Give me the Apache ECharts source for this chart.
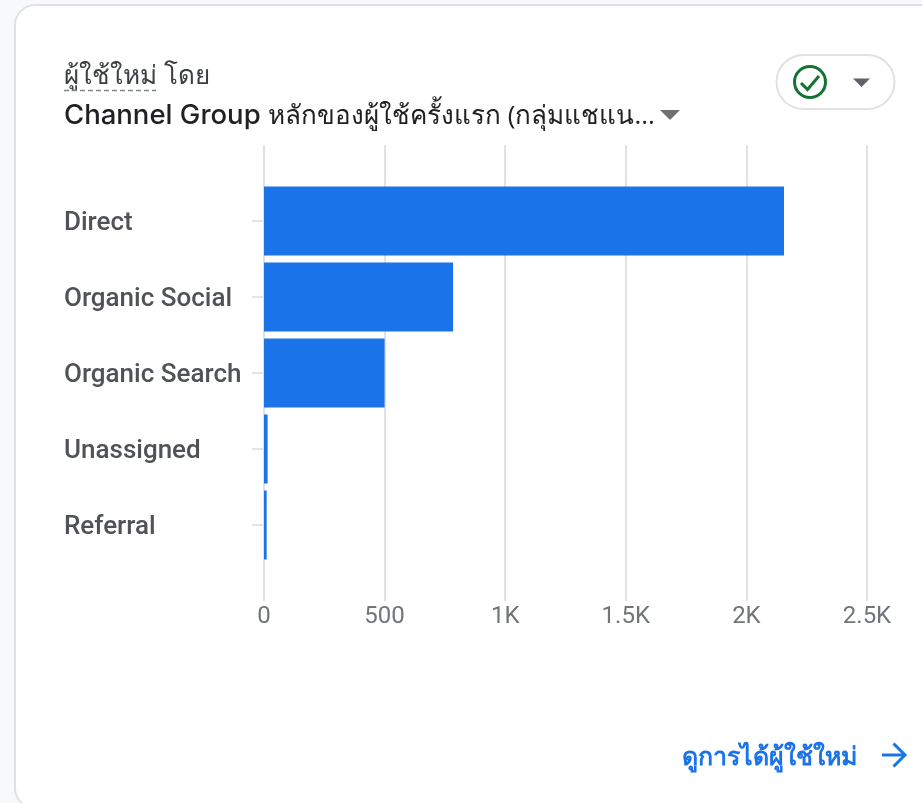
<!DOCTYPE html>
<html><head><meta charset="utf-8">
<style>html,body{margin:0;padding:0;background:#f8f9fa}#c{width:922px;height:803px}</style>
<script src="https://cdn.jsdelivr.net/npm/echarts@6/dist/echarts.min.js"></script>
</head><body><div id="c"></div>
<script>
const categories = ['', 'Direct', 'Organic Social', 'Organic Search', 'Unassigned', 'Referral', ''];
const newUsers = [null, 2156, 784, 500, 15, 11, null];
const tickLabels = ['0', '500', '1K', '1.5K', '2K', '2.5K'];
const titleLine1 = 'ผู้ใช้ใหม่ โดย';
const titleLine2a = 'Channel Group';
const titleLine2b = 'หลักของผู้ใช้ครั้งแรก (กลุ่มแชแน...';
const linkText = 'ดูการได้ผู้ใช้ใหม่';
const FONT = '"Open Sans","Noto Sans",sans-serif';
const chart = echarts.init(document.getElementById('c'), null, {renderer:'canvas'});
chart.setOption({
  animation:false,
  backgroundColor:'#f8f9fa',
  grid:{left:264,top:145,width:603,height:456,containLabel:false},
  xAxis:{type:'value',min:0,max:2500,interval:500,
    axisLine:{show:false},axisTick:{show:false},
    axisLabel:{margin:4,color:'#70757a',fontFamily:'Roboto',fontSize:24,
      formatter:(v)=>tickLabels[v/500]},
    splitLine:{show:true,lineStyle:{color:'#e0e2e6',width:2}}},
  yAxis:{type:'category',inverse:true,boundaryGap:false,data:categories,
    axisLine:{show:false},
    axisTick:{show:true,length:12,interval:(i,v)=>v!=='',lineStyle:{color:'#dadce0',width:1.5}},
    axisLabel:{align:'left',margin:200,color:'#4f5256',fontFamily:'Roboto',fontWeight:500,fontSize:26,interval:0,verticalAlign:'top',lineHeight:4},
    splitLine:{show:false}},
  series:[{type:'bar',data:newUsers,barWidth:69,itemStyle:{color:'#1a73e8'},z:3}],
  graphic:{elements:[
    {type:'rect',z:-10,silent:true,shape:{x:15,y:5,width:1000,height:803,r:20},
      style:{fill:'#ffffff',stroke:'#dfe1e5',lineWidth:2}},
    {type:'text',left:64,top:64,style:{text:titleLine1,font:'500 26px '+FONT,fill:'#3c4043'}},
    {type:'line',shape:{x1:64,y1:90.5,x2:156,y2:90.5},style:{stroke:'#80868b',lineWidth:1.5,lineDash:[5,3]}},
    {type:'text',left:64,top:102,style:{text:titleLine2a,font:'500 27.5px Inter,'+FONT,fill:'#202124'}},
    {type:'text',left:268,top:104,style:{text:titleLine2b,font:'500 26px '+FONT,fill:'#202124'}},
    {type:'polygon',shape:{points:[[660,110],[680,110],[670,120]]},style:{fill:'#707070'}},
    {type:'rect',shape:{x:776.5,y:55,width:118,height:54,r:27},style:{fill:'#fff',stroke:'#dfe1e5',lineWidth:2}},
    {type:'circle',shape:{cx:810,cy:82,r:15.5},style:{fill:'none',stroke:'#137333',lineWidth:3}},
    {type:'polyline',shape:{points:[[801,83],[807.5,89.5],[819,76]]},style:{fill:'none',stroke:'#137333',lineWidth:3}},
    {type:'polygon',shape:{points:[[853,78.5],[870,78.5],[861.5,87]]},style:{fill:'#5f6368'}},
    {type:'text',left:682,top:745,style:{text:linkText,font:'600 25px '+FONT,fill:'#1a73e8'}},
    {type:'polyline',shape:{points:[[882,755],[905,755]]},style:{fill:'none',stroke:'#1a73e8',lineWidth:3}},
    {type:'polyline',shape:{points:[[893.5,743.5],[905,755],[893.5,766.5]]},style:{fill:'none',stroke:'#1a73e8',lineWidth:3}}
  ]}
});
</script></body></html>
